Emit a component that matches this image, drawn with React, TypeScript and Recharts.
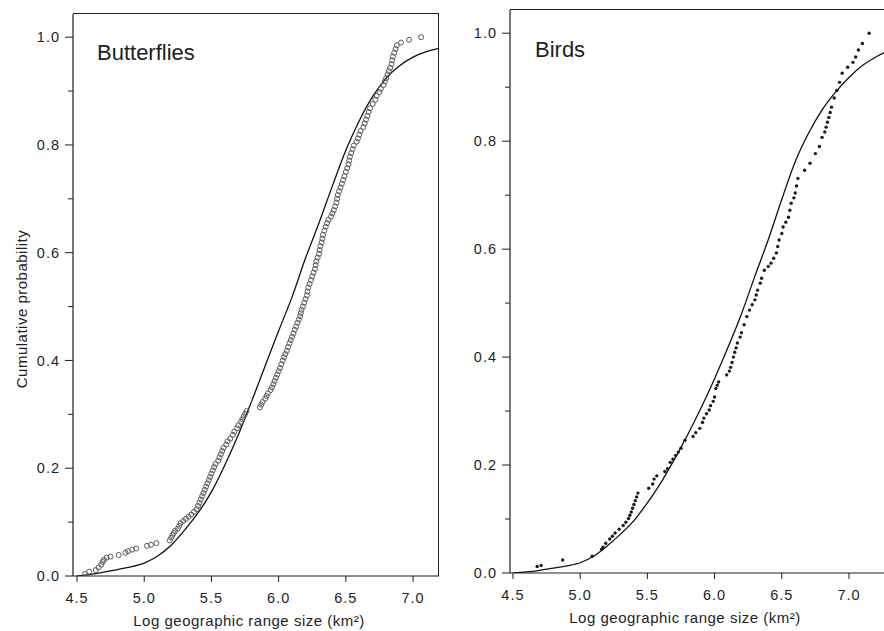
import { ComposedChart, Line, Scatter, XAxis, YAxis } from 'recharts'

const INK = '#1e1e1e'
const FONT = '"Liberation Sans", Arial, Helvetica, sans-serif'
const CHART_H = 631

const xTicks = [4.5, 5.0, 5.5, 6.0, 6.5, 7.0]
const yTicks = [0, 0.1, 0.2, 0.3, 0.4, 0.5, 0.6, 0.7, 0.8, 0.9, 1.0]

// empirical cumulative points, butterflies (open circles)
const butterflyPoints: [number, number][] = [
  [4.56, 0.004], [4.59, 0.008], [4.64, 0.011], [4.66, 0.016], [4.68, 0.021], [4.69, 0.026], [4.70, 0.030],
  [4.72, 0.034], [4.75, 0.036], [4.81, 0.039], [4.86, 0.043], [4.88, 0.046], [4.91, 0.049], [4.94, 0.051],
  [5.02, 0.056], [5.05, 0.058], [5.09, 0.061],
  [5.19, 0.066], [5.20, 0.071], [5.21, 0.076], [5.22, 0.080], [5.23, 0.084], [5.25, 0.088], [5.26, 0.093],
  [5.27, 0.098], [5.29, 0.102], [5.31, 0.106], [5.33, 0.110], [5.35, 0.114], [5.37, 0.119], [5.39, 0.124],
  [5.40, 0.130], [5.41, 0.136], [5.42, 0.142], [5.43, 0.148], [5.44, 0.154], [5.45, 0.160], [5.46, 0.166],
  [5.47, 0.172], [5.48, 0.178], [5.49, 0.184], [5.50, 0.190], [5.51, 0.196], [5.52, 0.202], [5.53, 0.208],
  [5.55, 0.214], [5.56, 0.220], [5.57, 0.226], [5.58, 0.232], [5.59, 0.238], [5.61, 0.244], [5.62, 0.250],
  [5.64, 0.255], [5.66, 0.262], [5.67, 0.268], [5.69, 0.274], [5.70, 0.280], [5.72, 0.286], [5.73, 0.291],
  [5.74, 0.296], [5.75, 0.301], [5.76, 0.306],
  [5.86, 0.313], [5.87, 0.318], [5.88, 0.323], [5.90, 0.329], [5.91, 0.334], [5.92, 0.339], [5.94, 0.345],
  [5.95, 0.350], [5.96, 0.356], [5.97, 0.362], [5.98, 0.368], [5.99, 0.374], [6.00, 0.380], [6.01, 0.386],
  [6.02, 0.393], [6.03, 0.400], [6.04, 0.406], [6.05, 0.412], [6.06, 0.418], [6.07, 0.425], [6.08, 0.432],
  [6.09, 0.438], [6.10, 0.444], [6.11, 0.450], [6.12, 0.457], [6.13, 0.463], [6.14, 0.470], [6.15, 0.476],
  [6.16, 0.482], [6.165, 0.488], [6.17, 0.494], [6.18, 0.500], [6.19, 0.507], [6.20, 0.514], [6.21, 0.521],
  [6.215, 0.528], [6.22, 0.535], [6.23, 0.542], [6.24, 0.549], [6.25, 0.556], [6.26, 0.563], [6.27, 0.570],
  [6.275, 0.577], [6.28, 0.584], [6.29, 0.591], [6.30, 0.598], [6.305, 0.605], [6.31, 0.612], [6.32, 0.619],
  [6.325, 0.626], [6.33, 0.633], [6.34, 0.641], [6.35, 0.648], [6.36, 0.655], [6.37, 0.661], [6.39, 0.667],
  [6.40, 0.673], [6.41, 0.679], [6.42, 0.686], [6.43, 0.693], [6.435, 0.700], [6.44, 0.707], [6.45, 0.714],
  [6.46, 0.721], [6.47, 0.728], [6.48, 0.735], [6.49, 0.742], [6.50, 0.750], [6.51, 0.757], [6.52, 0.764],
  [6.525, 0.771], [6.53, 0.778], [6.54, 0.785], [6.55, 0.792], [6.56, 0.799], [6.58, 0.806], [6.59, 0.812],
  [6.60, 0.819], [6.61, 0.826], [6.63, 0.833], [6.64, 0.840], [6.65, 0.847], [6.66, 0.854], [6.67, 0.861],
  [6.68, 0.868], [6.70, 0.876], [6.72, 0.884], [6.73, 0.891], [6.75, 0.898], [6.76, 0.904], [6.78, 0.911],
  [6.79, 0.918], [6.80, 0.924], [6.81, 0.931], [6.82, 0.937], [6.83, 0.943], [6.84, 0.950], [6.845, 0.957],
  [6.85, 0.964], [6.86, 0.971], [6.87, 0.978], [6.88, 0.985], [6.91, 0.990], [6.97, 0.995], [7.06, 1.0],
]

// fitted curve, butterflies
const butterflyFit: [number, number][] = [
  [4.50, 0.000], [4.60, 0.003], [4.70, 0.007], [4.80, 0.012], [4.90, 0.017], [5.00, 0.024], [5.10, 0.037],
  [5.20, 0.057], [5.30, 0.085], [5.40, 0.117], [5.50, 0.156], [5.60, 0.206], [5.70, 0.262], [5.80, 0.325],
  [5.90, 0.390], [6.00, 0.455], [6.10, 0.518], [6.20, 0.590], [6.30, 0.655], [6.40, 0.724], [6.50, 0.790],
  [6.60, 0.845], [6.70, 0.890], [6.80, 0.924], [6.90, 0.947], [7.00, 0.963], [7.10, 0.973], [7.19, 0.979],
]

// empirical cumulative points, birds (filled dots)
const birdPoints: [number, number][] = [
  [4.68, 0.012], [4.71, 0.014], [4.87, 0.024], [5.09, 0.031], [5.16, 0.044], [5.17, 0.048], [5.19, 0.055],
  [5.22, 0.063], [5.24, 0.068], [5.26, 0.074], [5.29, 0.081], [5.32, 0.088], [5.34, 0.094], [5.36, 0.101],
  [5.37, 0.107], [5.38, 0.113], [5.39, 0.120], [5.40, 0.127], [5.41, 0.134], [5.42, 0.141], [5.43, 0.148],
  [5.51, 0.157], [5.54, 0.165], [5.55, 0.174], [5.57, 0.180], [5.63, 0.188], [5.65, 0.193], [5.67, 0.205],
  [5.69, 0.211], [5.71, 0.218], [5.73, 0.224], [5.75, 0.231], [5.78, 0.246], [5.84, 0.253], [5.86, 0.260],
  [5.89, 0.268], [5.91, 0.279], [5.92, 0.287], [5.94, 0.295], [5.96, 0.302], [5.97, 0.310], [5.99, 0.318],
  [6.00, 0.326], [6.01, 0.342], [6.02, 0.348], [6.03, 0.354], [6.09, 0.367], [6.11, 0.374], [6.12, 0.381],
  [6.13, 0.390], [6.14, 0.400], [6.15, 0.409], [6.16, 0.417], [6.17, 0.426], [6.19, 0.437], [6.20, 0.445],
  [6.22, 0.460], [6.24, 0.475], [6.26, 0.487], [6.28, 0.497], [6.30, 0.506], [6.31, 0.515], [6.32, 0.524],
  [6.34, 0.537], [6.35, 0.546], [6.37, 0.561], [6.40, 0.568], [6.42, 0.574], [6.44, 0.583], [6.46, 0.593],
  [6.47, 0.605], [6.48, 0.617], [6.50, 0.629], [6.51, 0.641], [6.53, 0.650], [6.55, 0.659], [6.56, 0.672],
  [6.57, 0.685], [6.59, 0.695], [6.60, 0.704], [6.61, 0.717], [6.62, 0.731], [6.67, 0.746], [6.71, 0.759],
  [6.75, 0.777], [6.78, 0.790], [6.80, 0.807], [6.82, 0.817], [6.83, 0.826], [6.84, 0.835], [6.85, 0.844],
  [6.86, 0.853], [6.87, 0.863], [6.89, 0.880], [6.91, 0.894], [6.93, 0.909], [6.95, 0.926], [6.99, 0.937],
  [7.03, 0.946], [7.05, 0.956], [7.07, 0.969], [7.10, 0.981], [7.15, 1.0],
]

// fitted curve, birds
const birdFit: [number, number][] = [
  [4.50, 0.000], [4.60, 0.002], [4.70, 0.005], [4.80, 0.009], [4.90, 0.013], [5.00, 0.019], [5.10, 0.031],
  [5.20, 0.050], [5.30, 0.072], [5.40, 0.097], [5.50, 0.130], [5.60, 0.167], [5.70, 0.210], [5.80, 0.256],
  [5.90, 0.306], [6.00, 0.360], [6.10, 0.418], [6.20, 0.480], [6.30, 0.550], [6.40, 0.618], [6.50, 0.692],
  [6.60, 0.762], [6.70, 0.815], [6.80, 0.858], [6.90, 0.891], [7.00, 0.918], [7.10, 0.940], [7.20, 0.956],
  [7.28, 0.966],
]

const Y_MAX = 1.043

const toRows = (pairs: [number, number][]) => pairs.map(([x, y]) => ({ x, y }))

const Y_TICK_SIZE = 8
const Y_TICK_MARGIN = 5
const X_TICK_SIZE = 6
const X_TICK_MARGIN = 11

function YTick(props: any) {
  const { x, y, payload } = props
  const v = payload.value as number
  const major = Math.round(v * 10) % 2 === 0
  const axisX = x + Y_TICK_MARGIN + Y_TICK_SIZE
  return (
    <g>
      <line x1={axisX - (major ? Y_TICK_SIZE : 5)} x2={axisX} y1={y} y2={y} stroke={INK} strokeWidth={1} />
      {major ? (
        <text x={x} y={y} dy="0.36em" textAnchor="end" fontSize={14.5} fill={INK} letterSpacing={1} fontFamily={FONT}>
          {v.toFixed(1)}
        </text>
      ) : null}
    </g>
  )
}

function XTick(props: any) {
  const { x, y, payload } = props
  const axisY = y - X_TICK_SIZE - X_TICK_MARGIN
  return (
    <g>
      <line x1={x} x2={x} y1={axisY} y2={axisY + X_TICK_SIZE} stroke={INK} strokeWidth={1} />
      <text x={x} y={y} dy="0.71em" textAnchor="middle" fontSize={14.5} fill={INK} letterSpacing={1} fontFamily={FONT}>
        {(payload.value as number).toFixed(1)}
      </text>
    </g>
  )
}

function OpenCircle(props: any) {
  return <circle cx={props.cx} cy={props.cy} r={2.5} fill="none" stroke="#5a5a5a" strokeWidth={1} />
}

function SolidDot(props: any) {
  return <circle cx={props.cx} cy={props.cy} r={1.7} fill="#1a1a1a" />
}

type PanelLayout = {
  left: number
  width: number
  top: number
  bottomAxis: number
  yAxisWidth: number
  rightMargin: number
  xDomain: [number, number]
}

const butterflyLayout: PanelLayout = {
  left: 0, width: 450, top: 14, bottomAxis: 55, yAxisWidth: 73, rightMargin: 11, xDomain: [4.47, 7.193],
}
const birdLayout: PanelLayout = {
  left: 440, width: 447, top: 10, bottomAxis: 58, yAxisWidth: 70, rightMargin: 0, xDomain: [4.478, 7.283],
}

type PanelProps = {
  layout: PanelLayout
  points: [number, number][]
  fit: [number, number][]
  shape: (p: any) => any
}

// plot box outline drawn as a plain bordered box over the plot area
function PlotBox({ layout }: { layout: PanelLayout }) {
  const x0 = layout.left + layout.yAxisWidth
  const x1 = layout.left + layout.width - layout.rightMargin
  const y0 = layout.top
  const y1 = CHART_H - layout.bottomAxis
  return (
    <div
      style={{
        position: 'absolute',
        left: x0,
        top: y0 - 1,
        width: x1 - x0,
        height: y1 - y0 + 1,
        boxSizing: 'border-box',
        borderTop: `1.5px solid ${INK}`,
        borderRight: `1.5px solid ${INK}`,
        pointerEvents: 'none',
      }}
    />
  )
}

function Panel({ layout, points, fit, shape }: PanelProps) {
  const { left, width, top, bottomAxis, yAxisWidth, rightMargin, xDomain } = layout
  const axisLine = { stroke: INK, strokeWidth: 1.2 }
  return (
    <div style={{ position: 'absolute', left, top: 0 }}>
      <ComposedChart width={width} height={CHART_H} margin={{ top, right: rightMargin, bottom: 0, left: 0 }}>
        <XAxis
          xAxisId="b"
          dataKey="x"
          type="number"
          domain={xDomain}
          allowDataOverflow
          ticks={xTicks}
          tick={<XTick />}
          tickLine={false}
          tickSize={X_TICK_SIZE}
          tickMargin={X_TICK_MARGIN}
          axisLine={axisLine}
          height={bottomAxis}
        />
        <YAxis
          yAxisId="l"
          dataKey="y"
          type="number"
          domain={[0, Y_MAX]}
          allowDataOverflow
          ticks={yTicks}
          tick={<YTick />}
          tickLine={false}
          tickSize={Y_TICK_SIZE}
          tickMargin={Y_TICK_MARGIN}
          axisLine={axisLine}
          width={yAxisWidth}
        />
        <Scatter xAxisId="b" yAxisId="l" data={toRows(points)} dataKey="y" shape={shape} isAnimationActive={false} />
        <Line
          xAxisId="b"
          yAxisId="l"
          data={toRows(fit)}
          dataKey="y"
          type="monotone"
          stroke="#111"
          strokeWidth={1.3}
          dot={false}
          activeDot={false}
          isAnimationActive={false}
        />
      </ComposedChart>
    </div>
  )
}

export default function App() {
  return (
    <div style={{ position: 'absolute', left: 0, top: 0, width: 884, height: 631, overflow: 'hidden', background: '#fff', fontFamily: FONT }}>
      <Panel layout={butterflyLayout} points={butterflyPoints} fit={butterflyFit} shape={OpenCircle} />
      <Panel layout={birdLayout} points={birdPoints} fit={birdFit} shape={SolidDot} />
      <PlotBox layout={butterflyLayout} />
      <PlotBox layout={birdLayout} />
      <svg width={884} height={631} style={{ position: 'absolute', left: 0, top: 0, pointerEvents: 'none' }}>
        <g fontFamily={FONT} fill={INK}>
          <text x={97} y={60} fontSize={22}>Butterflies</text>
          <text x={535} y={57} fontSize={22}>Birds</text>
          <text x={249} y={626} fontSize={15} letterSpacing={0.5} textAnchor="middle">
            Log geographic range size (km²)
          </text>
          <text x={685} y={623} fontSize={15} letterSpacing={0.5} textAnchor="middle">
            Log geographic range size (km²)
          </text>
          <text transform="translate(27 309) rotate(-90)" fontSize={15} letterSpacing={0.5} textAnchor="middle">
            Cumulative probability
          </text>
        </g>
      </svg>
    </div>
  )
}
